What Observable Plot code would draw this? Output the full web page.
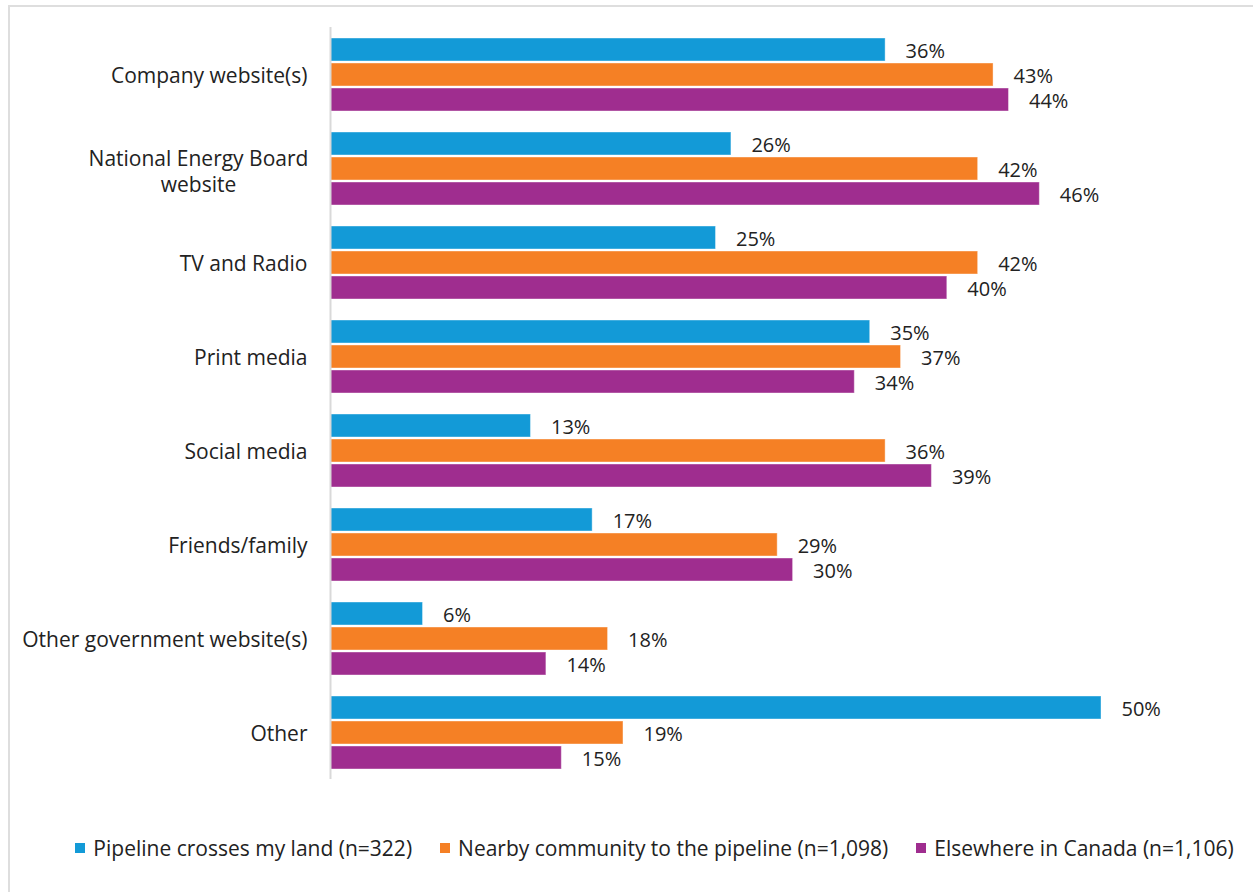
<!DOCTYPE html>
<html>
<head>
<meta charset="utf-8">
<script src="https://cdn.jsdelivr.net/npm/d3@7"></script>
<script src="https://cdn.jsdelivr.net/npm/@observablehq/plot@0.6"></script>
<style>
  html, body { margin: 0; padding: 0; background: #fff; }
  body { position: relative; width: 1253px; height: 892px; overflow: hidden; font-family: "Open Sans", sans-serif; }
  #frame { position: absolute; left: 8px; top: 5px; width: 1250px; height: 890px; border: 2px solid #dedede; box-sizing: border-box; }
  #chart { position: absolute; left: 0; top: 0; }
  #legend { position: absolute; left: 0; top: 834px; width: 1253px; display: flex; justify-content: center; gap: 28px; font-size: 21px; color: #222; padding-left: 56px; box-sizing: border-box; }
  .item { display: flex; align-items: center; white-space: nowrap; }
  .sw { width: 10px; height: 10px; margin-right: 8px; }
</style>
</head>
<body>
<div id="frame"></div>
<div id="chart"></div>
<div id="legend"></div>
<script>
const categories = [
  "Company website(s)",
  "National Energy Board website",
  "TV and Radio",
  "Print media",
  "Social media",
  "Friends/family",
  "Other government website(s)",
  "Other"
];
const series = [
  "Pipeline crosses my land (n=322)",
  "Nearby community to the pipeline (n=1,098)",
  "Elsewhere in Canada (n=1,106)"
];
const pipeline  = [36, 26, 25, 35, 13, 17, 6, 50];
const nearby    = [43, 42, 42, 37, 36, 29, 18, 19];
const elsewhere = [44, 46, 40, 34, 39, 30, 14, 15];
const colors = ["#139ad7", "#f58025", "#9f2d8f"];

const seriesValues = [pipeline, nearby, elsewhere];
const data = categories.flatMap((c, i) =>
  series.map((s, j) => ({category: c, series: s, value: seriesValues[j][i]}))
);

const wrapped = "National Energy Board website";
const singleLine = categories.filter(c => c !== wrapped);

const chart = Plot.plot({
  width: 1253,
  height: 800,
  marginLeft: 330,
  marginRight: 152,
  marginTop: 27,
  marginBottom: 21,
  style: {fontFamily: "'Open Sans', sans-serif", fontSize: "20px", color: "#222", background: "transparent"},
  x: {domain: [0, 50], axis: null},
  y: {domain: series, axis: null, paddingInner: 0.08, paddingOuter: 0.42},
  fy: {domain: categories, padding: 0, label: null},
  color: {domain: series, range: colors},
  marks: [
    Plot.barX(data, {fy: "category", y: "series", x: "value", fill: "series", stroke: "#fff", strokeOpacity: 0.4, strokeWidth: 1}),
    Plot.text(data, {fy: "category", y: "series", x: "value", text: d => d.value + "%", textAnchor: "start", dx: 20, dy: 2, fill: "#222", fontSize: 20}),
    Plot.ruleX([0], {stroke: "#d9d9d9", strokeWidth: 2}),
    Plot.axisFy({anchor: "left", ticks: singleLine, label: null, tickSize: 0, tickPadding: 23, dy: 2, fontSize: 21, fill: "#222"}),
    Plot.axisFy({anchor: "left", ticks: [wrapped], label: null, tickSize: 0, tickPadding: 132, dy: 2, textAnchor: "middle", tickFormat: () => "National Energy Board\nwebsite", fontSize: 21, lineHeight: 1.25, fill: "#222"})
  ]
});
document.getElementById("chart").appendChild(chart);

const legend = document.getElementById("legend");
series.forEach((s, i) => {
  const item = document.createElement("div");
  item.className = "item";
  const sw = document.createElement("span");
  sw.className = "sw";
  sw.style.background = colors[i];
  const t = document.createElement("span");
  t.textContent = s;
  item.appendChild(sw);
  item.appendChild(t);
  legend.appendChild(item);
});
</script>
</body>
</html>
